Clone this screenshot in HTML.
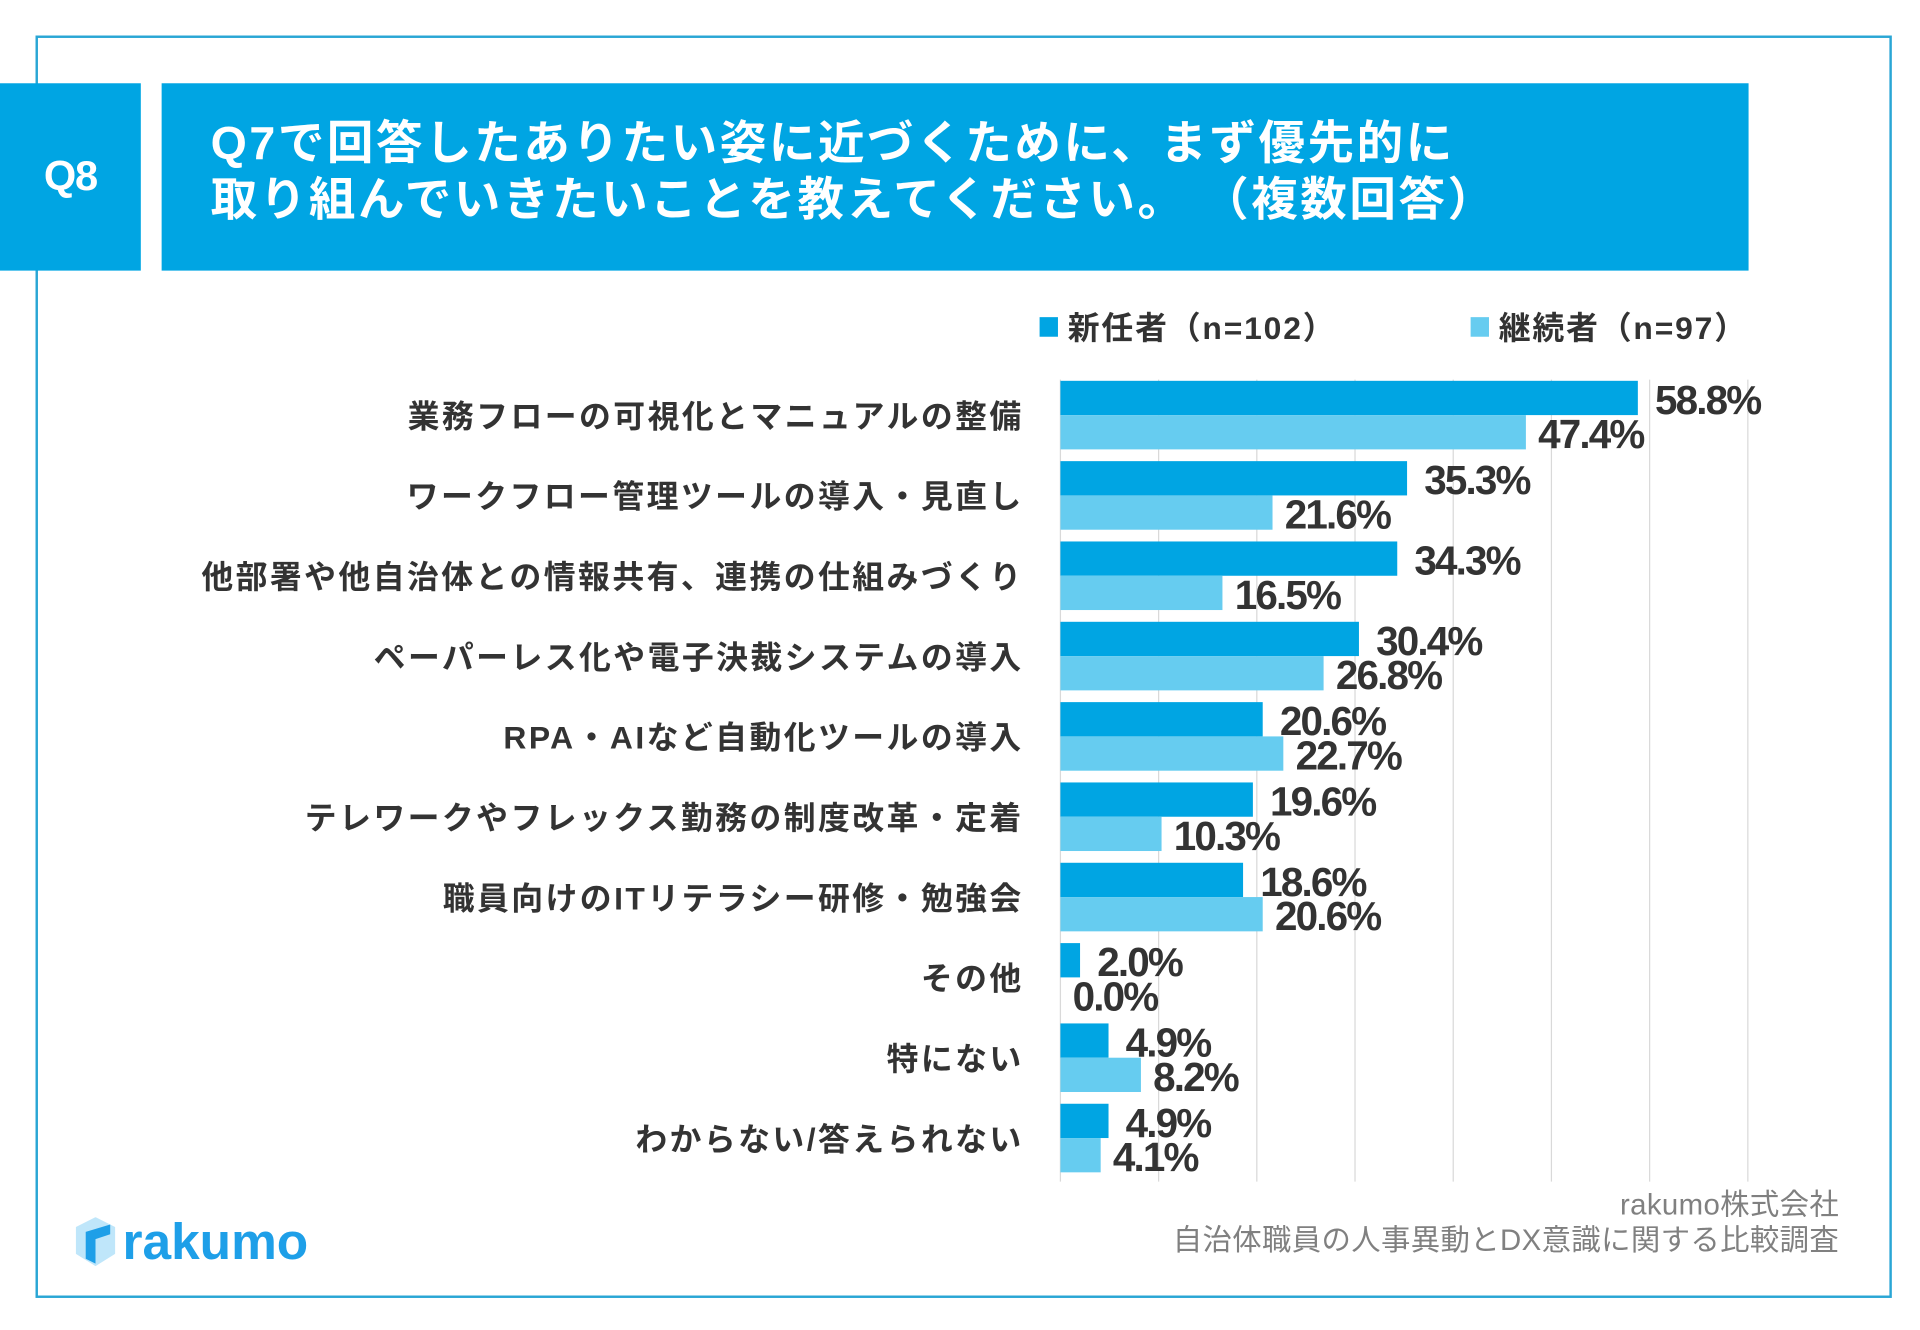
<!DOCTYPE html>
<html><head><meta charset="utf-8"><style>
html,body{margin:0;padding:0;width:1920px;height:1329px;overflow:hidden;background:#fff}
#stage{position:absolute;left:0;top:0;width:1568px;height:1086px;transform:scale(1.22449);transform-origin:0 0;font-family:"Liberation Sans","Noto Sans CJK JP",sans-serif}
.abs{position:absolute}
</style></head><body>
<div id="stage">
  <div class="abs" style="left:29px;top:29px;width:1512px;height:1027px;border:2px solid #2aa6d5;"></div>
  <div class="abs" style="left:0;top:68px;width:115px;height:153px;background:#00a5e3;color:#fff;font-weight:bold;font-size:34px;display:flex;align-items:center;justify-content:center;letter-spacing:-1px">Q8</div>
  <div class="abs" style="left:132px;top:68px;width:1296px;height:153px;background:#00a5e3;"></div>
  <div class="abs" style="left:172px;top:95px;color:#fff;font-weight:bold;font-size:38px;line-height:46px;letter-spacing:2.1px;white-space:nowrap">Q7で回答したありたい姿に近づくために、まず優先的に<br>取り組んでいきたいことを教えてください。 （複数回答）</div>
  <svg id="chart" class="abs" style="left:0;top:0" width="1568" height="1086"></svg>
  <div class="abs" style="left:60px;top:992px;height:44px;display:flex;align-items:center">
    <svg width="36" height="40"><polygon points="2,8 18,0 34,8 34,30 18,40 2,30" fill="#bfe6fa"/><polygon points="10,12 30,6 30,14 18,18 18,38 10,34" fill="#1e9fe8"/></svg>
    <span style="color:#1e9fe8;font-weight:bold;font-size:42px;margin-left:4px;letter-spacing:0px">rakumo</span>
  </div>
  <div class="abs" style="right:66px;top:970px;text-align:right;color:#808080;font-size:24px;line-height:29px;letter-spacing:0.3px">rakumo株式会社<br>自治体職員の人事異動とDX意識に関する比較調査</div>
</div>
<script>
const categories=["業務フローの可視化とマニュアルの整備","ワークフロー管理ツールの導入・見直し","他部署や他自治体との情報共有、連携の仕組みづくり","ペーパーレス化や電子決裁システムの導入","RPA・AIなど自動化ツールの導入","テレワークやフレックス勤務の制度改革・定着","職員向けのITリテラシー研修・勉強会","その他","特にない","わからない/答えられない"];
const newcomers=[58.8,35.3,34.3,30.4,20.6,19.6,18.6,2.0,4.9,4.9];
const continuing=[47.4,21.6,16.5,26.8,22.7,10.3,20.6,0.0,8.2,4.1];
const seriesNames=["新任者（n=102）","継続者（n=97）"];
const gridTicks=[0,10,20,30,40,50,60,70];
const NS="http://www.w3.org/2000/svg";
const svg=document.getElementById('chart');
const X0=866,PX=8.02,Y0=311,PITCH=65.6,BH=28;
const xs=v=>X0+v*PX;
function mk(t,a){const e=document.createElementNS(NS,t);for(const k in a)e.setAttribute(k,a[k]);svg.appendChild(e);return e;}
gridTicks.forEach(t=>{
  const l=mk('line',{x1:xs(t),x2:xs(t),y1:310,y2:965,stroke:'#d9d9d9','stroke-width':1});
  
  
});
const colors=['#00a5e3','#66ccf0'];
[[849,seriesNames[0],colors[0]],[1201,seriesNames[1],colors[1]]].forEach(([x,n,c],i)=>{
  const r=mk('rect',{x:x,y:259,width:15,height:16,fill:c});
  
  
  const t=mk('text',{x:x+23,y:277,'font-size':26,'font-weight':'bold',fill:'#333','letter-spacing':1.5});
  
  
  t.textContent=n;
});
categories.forEach((c,i)=>{
  const gy=Y0+i*PITCH;
  const t=mk('text',{x:836,y:gy+BH+10,'text-anchor':'end','font-size':26,'font-weight':'bold',fill:'#333','letter-spacing':2});
  
  
  t.textContent=c;
  [newcomers[i],continuing[i]].forEach((v,s)=>{
    const y=gy+s*BH;
    const b=mk('rect',{x:X0,y:y,width:Math.max(v*PX,0),height:BH,fill:colors[s]});
    
    
    const vt=mk('text',{x:xs(v)+(s===0?14:10),y:y+BH/2+13,'font-size':33,'font-weight':'bold',fill:'#333','letter-spacing':-1.5});
    
    
    vt.textContent=v.toFixed(1)+'%';
  });
});
</script>
</body></html>
